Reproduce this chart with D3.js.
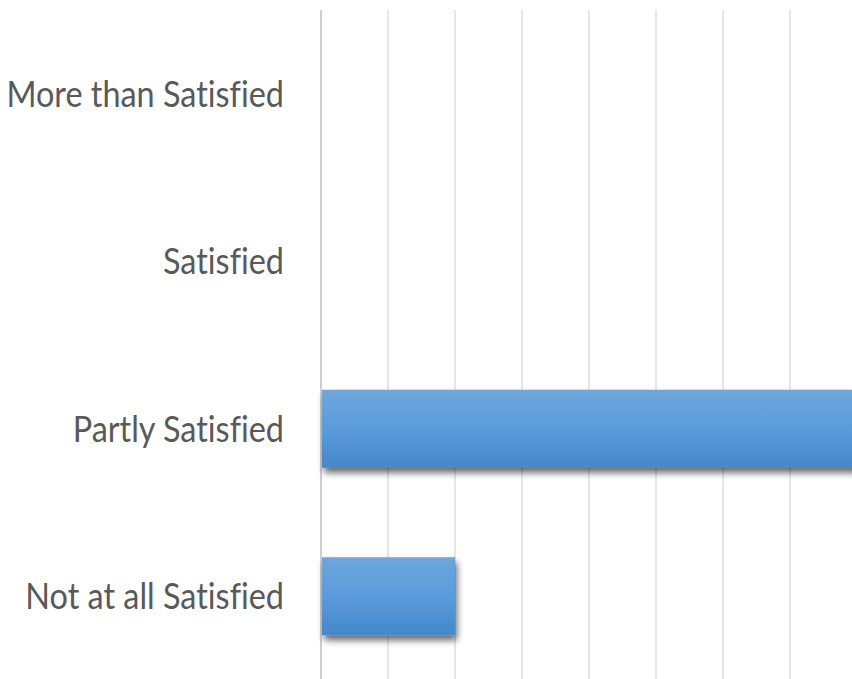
<html>
<head>
  <title>Satisfaction</title>
  <meta charset="utf-8" />
  <style type="text/css">
    body { margin: 0; background: white; }
    svg { display: block; }
    text { font-family: Lato, "Open Sans", sans-serif; fill: #595959; font-variant-ligatures: none; }
  </style>
  <script src="https://d3js.org/d3.v7.min.js"></script>
</head>
<body>
  <div id="viz"></div>
<script>
  // data
  var categories = ["More than Satisfied", "Satisfied", "Partly Satisfied", "Not at all Satisfied"];
  var counts = [0, 0, 8, 2];
  var tickValues = [0, 1, 2, 3, 4, 5, 6, 7, 8, 9, 10];

  var W = 852, H = 679;
  var svg = d3.select("#viz").append("svg").attr("width", W).attr("height", H);

  var x = d3.scaleLinear().domain([0, 10]).range([321, 991]);
  var y = d3.scaleBand().domain(categories).range([10, 680])
    .paddingInner(0.534).paddingOuter(0.267);

  var defs = svg.append("defs");
  var grad = defs.append("linearGradient").attr("id", "barGrad")
    .attr("x1", 0).attr("y1", 0).attr("x2", 0).attr("y2", 1);
  grad.append("stop").attr("offset", "0%").attr("stop-color", "#6fa6dc");
  grad.append("stop").attr("offset", "50%").attr("stop-color", "#5a9bdb");
  grad.append("stop").attr("offset", "100%").attr("stop-color", "#4587c8");

  var shadow = defs.append("filter").attr("id", "shadow")
    .attr("x", "-10%").attr("y", "-20%").attr("width", "130%").attr("height", "160%");
  shadow.append("feGaussianBlur").attr("in", "SourceAlpha").attr("stdDeviation", 3.5);
  shadow.append("feOffset").attr("dx", 2).attr("dy", 5).attr("result", "off");
  shadow.append("feComponentTransfer").append("feFuncA").attr("type", "linear").attr("slope", 0.6);
  var merge = shadow.append("feMerge");
  merge.append("feMergeNode");
  merge.append("feMergeNode").attr("in", "SourceGraphic");

  // gridlines
  svg.append("g").selectAll("line")
    .data(tickValues)
    .enter()
    .append("line")
    .attr("x1", function (d) { return x(d) })
    .attr("x2", function (d) { return x(d) })
    .attr("y1", 10)
    .attr("y2", H)
    .style("stroke", function (d) { return d === 0 ? "#cfcfcf" : "#dedede" })
    .style("stroke-width", function (d) { return d === 0 ? 2 : 1.5 });

  // bars
  svg.append("g").selectAll("rect")
    .data(categories)
    .enter()
    .append("rect")
    .attr("x", x(0) + 1)
    .attr("y", function (d) { return y(d) })
    .attr("height", y.bandwidth())
    .attr("width", function (d, i) { return Math.max(0, x(counts[i]) - x(0) - 1) })
    .attr("filter", "url(#shadow)")
    .style("fill", "url(#barGrad)");

  // category labels
  svg.append("g").selectAll("text")
    .data(categories)
    .enter()
    .append("text")
    .attr("text-anchor", "end")
    .attr("font-size", 36)
    .attr("transform", function (d) {
      return "translate(284," + (y(d) + y.bandwidth() / 2 + 13) + ") scale(0.9,1)";
    })
    .text(function (d) { return d });
</script>
</body>
</html>
